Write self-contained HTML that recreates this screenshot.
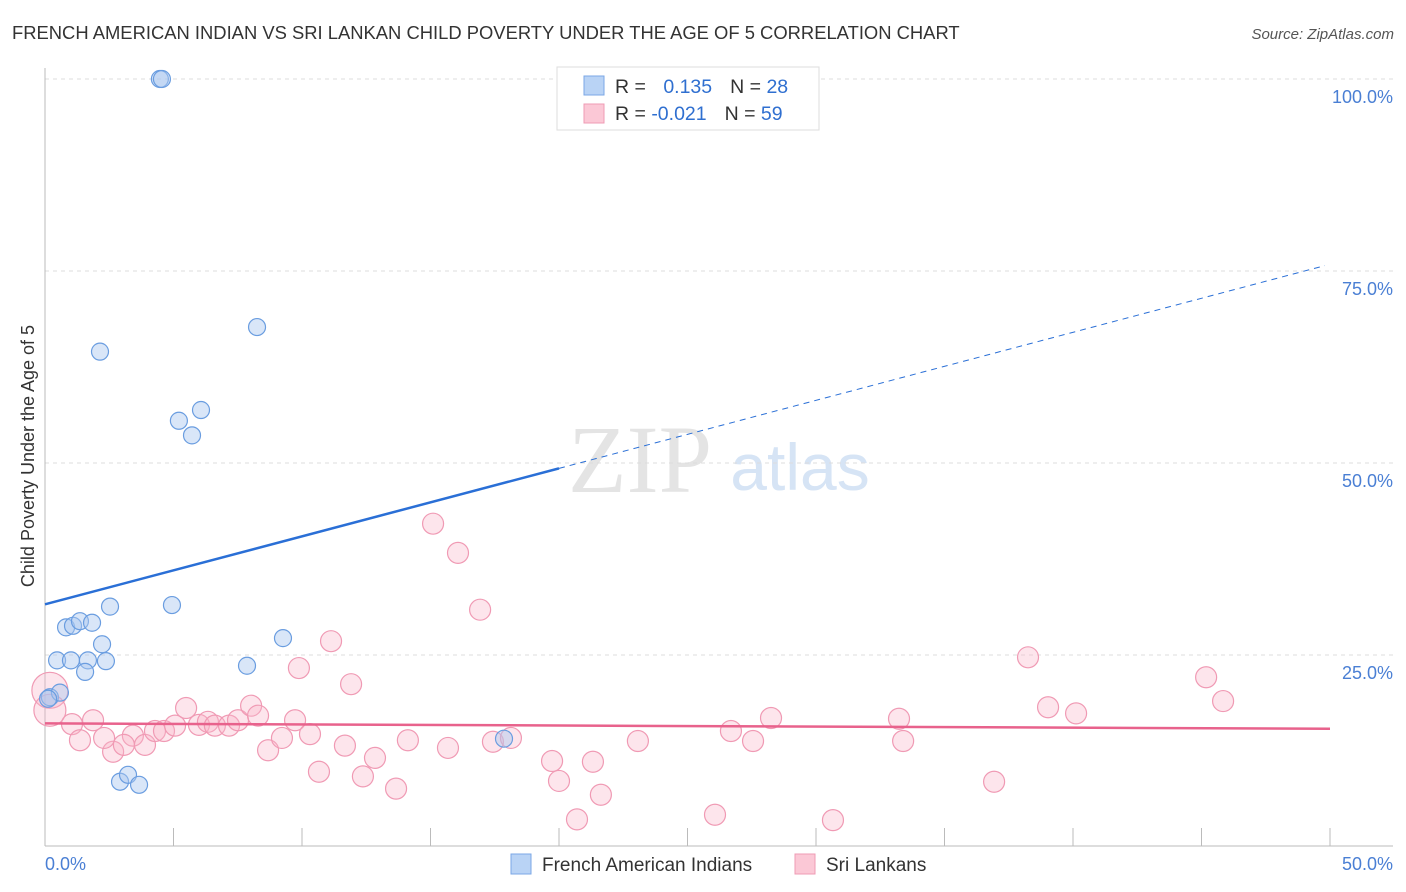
<!DOCTYPE html>
<html><head><meta charset="utf-8"><style>
body{margin:0;background:#fff;font-family:"Liberation Sans",sans-serif;}
svg{display:block}
</style></head><body>
<svg width="1406" height="892">
<text x="12" y="39" font-size="18.4" fill="#333">FRENCH AMERICAN INDIAN VS SRI LANKAN CHILD POVERTY UNDER THE AGE OF 5 CORRELATION CHART</text>
<text x="1394" y="39" font-size="15" fill="#555" font-style="italic" text-anchor="end">Source: ZipAtlas.com</text>
<text x="640" y="492" font-size="96" fill="#e4e4e4" font-family="Liberation Serif,serif" text-anchor="middle">ZIP</text>
<text x="800" y="490" font-size="66" fill="#d6e4f5" text-anchor="middle">atlas</text>
<g id="grid"></g>
<g id="axes"></g>
<g id="marks"></g>
<text transform="translate(34,456) rotate(-90)" font-size="18" fill="#333" text-anchor="middle">Child Poverty Under the Age of 5</text>
<text x="45" y="870" font-size="18" fill="#4a7fd4">0.0%</text>
<text x="1393" y="870" font-size="18" fill="#4a7fd4" text-anchor="end">50.0%</text>
<g>
<rect x="557" y="67" width="262" height="63" fill="#fff" stroke="#ddd"/>
<rect x="584" y="76" width="20" height="19" fill="#b9d3f5" stroke="#7ba7e6"/>
<rect x="584" y="104" width="20" height="19" fill="#fbc8d6" stroke="#ef9bb4"/>
<text x="615" y="93" font-size="19.5" fill="#333">R = <tspan fill="#2f6fd0" dx="12">0.135</tspan><tspan fill="#333" dx="18">N = </tspan><tspan fill="#2f6fd0">28</tspan></text>
<text x="615" y="120" font-size="19.5" fill="#333">R = <tspan fill="#2f6fd0">-0.021</tspan><tspan fill="#333" dx="18">N = </tspan><tspan fill="#2f6fd0">59</tspan></text>
</g>
<g>
<rect x="511" y="854" width="20" height="20" fill="#b9d3f5" stroke="#7ba7e6"/>
<text x="542" y="871" font-size="19" fill="#333">French American Indians</text>
<rect x="795" y="854" width="20" height="20" fill="#fbc8d6" stroke="#ef9bb4"/>
<text x="826" y="871" font-size="19" fill="#333">Sri Lankans</text>
</g>
</svg>
<script>
const yTicks=[100,75,50,25];
const yTickLabels=["100.0%","75.0%","50.0%","25.0%"];
const xTicks=[0,5,10,15,20,25,30,35,40,45,50];
const blueX=[4.47,4.55,2.14,8.25,5.21,6.07,5.72,2.53,4.94,0.82,1.09,1.36,1.83,2.22,0.47,1.01,1.67,2.37,1.56,7.86,9.26,0.19,0.58,0.12,2.92,3.23,3.66,17.86];
const blueY=[100,100,64.5,67.7,55.5,56.9,53.6,31.3,31.5,28.6,28.8,29.4,29.2,26.4,24.3,24.3,24.3,24.2,22.8,23.6,27.2,19.5,20.1,19.3,8.5,9.4,8.1,14.1];
const pinkX=[0.19,0.19,1.05,1.87,1.36,2.65,2.30,3.42,3.07,3.89,4.28,4.63,5.06,5.49,5.99,6.34,6.61,7.16,7.51,8.02,8.29,8.68,9.22,9.73,9.88,10.31,10.66,11.13,11.67,11.91,12.37,12.84,13.66,14.12,15.10,15.68,16.07,16.93,17.43,18.13,19.73,20.00,20.70,21.32,21.63,23.07,26.07,26.69,27.55,28.25,30.66,33.23,33.39,36.93,38.25,39.03,40.12,45.18,45.84];
const pinkY=[20.4,17.8,16.0,16.5,13.9,12.4,14.2,14.5,13.3,13.3,15.1,15.1,15.8,18.1,15.9,16.3,15.8,15.8,16.5,18.4,17.1,12.6,14.2,16.5,23.3,14.7,9.8,26.8,13.2,21.2,9.2,11.6,7.6,13.9,42.1,12.9,38.3,30.9,13.7,14.2,11.2,8.6,3.6,11.1,6.8,13.8,4.2,15.1,13.8,16.8,3.5,16.7,13.8,8.5,24.7,18.2,17.4,22.1,19.0];
const pinkR=[18,16];
const blueTrend=[31.6,49.3,75.7]; // at x=0, 20, 49.8
const pinkTrend=[16.1,15.4]; // at x=0, 50
const NS="http://www.w3.org/2000/svg";
const X=v=>45+v/50*1285, Y=v=>847-v/100*768;
function mk(t,a,p){const e=document.createElementNS(NS,t);for(const k in a)e.setAttribute(k,a[k]);p.appendChild(e);return e;}
const grid=document.getElementById('grid'),axes=document.getElementById('axes'),marks=document.getElementById('marks');
yTicks.forEach((t,i)=>{
 const l=mk('line',{x1:45,x2:1393,y1:Y(t),y2:Y(t),stroke:'#ddd','stroke-dasharray':'4,4'},grid);
 
 
 const tx=mk('text',{x:1393,y:Y(t)+24,'font-size':18,fill:'#4a7fd4','text-anchor':'end'},grid);
 tx.textContent=yTickLabels[i];
 
 
});
const ya=mk('line',{x1:45,x2:45,y1:68,y2:846,stroke:'#bbb'},axes);


const xa=mk('line',{x1:45,x2:1393,y1:846,y2:846,stroke:'#bbb'},axes);


xTicks.forEach(t=>{
 const l=mk('line',{x1:X(t),x2:X(t),y1:828,y2:846,stroke:'#bbb'},axes);
 
 
});
pinkX.forEach((x,i)=>{
 const r=i<pinkR.length?pinkR[i]:10.5;
 const c=mk('circle',{cx:X(x),cy:Y(pinkY[i]),r:r,fill:'rgba(248,180,200,0.35)',stroke:'#f09ab4','stroke-width':1.2},marks);
 
 
});
blueX.forEach((x,i)=>{
 const c=mk('circle',{cx:X(x),cy:Y(blueY[i]),r:8.5,fill:'rgba(170,200,240,0.45)',stroke:'#6a9de0','stroke-width':1.2},marks);
 
 
});
const bt=mk('line',{x1:X(0),y1:Y(blueTrend[0]),x2:X(20),y2:Y(blueTrend[1]),stroke:'#2a6fd6','stroke-width':2.5},marks);


const bd=mk('line',{x1:X(20),y1:Y(blueTrend[1]),x2:X(49.8),y2:Y(blueTrend[2]),stroke:'#2a6fd6','stroke-width':1,'stroke-dasharray':'6,5'},marks);


const pt=mk('line',{x1:X(0),y1:Y(pinkTrend[0]),x2:X(50),y2:Y(pinkTrend[1]),stroke:'#e8628c','stroke-width':2.5},marks);


</script>
</body></html>
